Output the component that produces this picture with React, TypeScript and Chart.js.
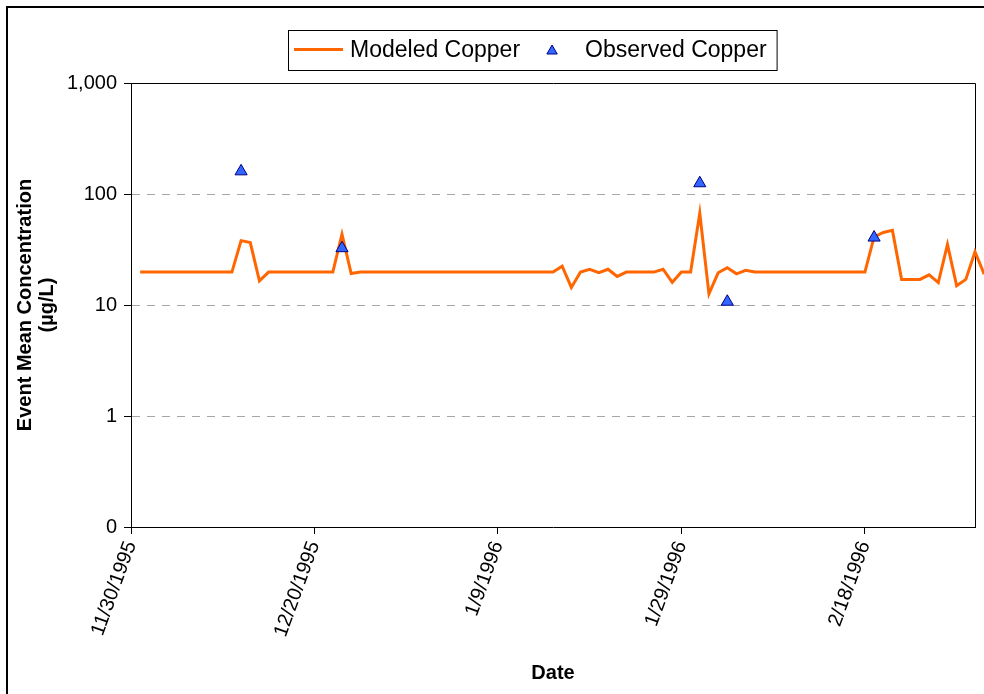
import React, { useEffect, useRef } from "react";
import { Chart, registerables } from "chart.js";

Chart.register(...registerables);

const FONT = "'Liberation Sans', Arial, sans-serif";

// ---- data ----
const originDate = "11/30/1995";
const xAxisEndDate = "3/1/1996";
const xTickDates = ["11/30/1995", "12/20/1995", "1/9/1996", "1/29/1996", "2/18/1996"];

const yTickValues = [0.1, 1, 10, 100, 1000];
const yTickLabels = ["0", "1", "10", "100", "1,000"];
const yGridValues = [1, 10, 100];

const modeledDates = [
  "12/1/1995", "12/11/1995", "12/12/1995", "12/13/1995", "12/14/1995", "12/15/1995",
  "12/22/1995", "12/23/1995", "12/24/1995", "12/25/1995",
  "1/15/1996", "1/16/1996", "1/17/1996", "1/18/1996", "1/19/1996", "1/20/1996",
  "1/21/1996", "1/22/1996", "1/23/1996", "1/26/1996", "1/27/1996", "1/28/1996",
  "1/29/1996", "1/30/1996", "1/31/1996", "2/1/1996", "2/2/1996", "2/3/1996",
  "2/4/1996", "2/5/1996", "2/6/1996", "2/18/1996", "2/19/1996", "2/20/1996",
  "2/21/1996", "2/22/1996", "2/24/1996", "2/25/1996", "2/26/1996", "2/27/1996",
  "2/28/1996", "2/29/1996", "3/1/1996", "3/2/1996",
];
const modeledCopper = [
  19.8, 19.8, 38, 36.5, 16.5, 19.8,
  19.8, 43.5, 19.2, 19.8,
  19.8, 22.4, 14.4, 19.8, 21, 19.6,
  21, 18.1, 19.8, 19.8, 21, 16,
  19.8, 19.8, 67, 12.6, 19.5, 21.7,
  19.1, 20.5, 19.8, 19.8, 41, 45,
  47, 17, 17, 18.7, 15.9, 35.2,
  14.9, 17, 30.2, 19,
];

const observedDates = ["12/12/1995", "12/23/1995", "1/31/1996", "2/3/1996", "2/19/1996"];
const observedCopper = [160, 32.5, 125, 10.7, 40.5];

// ---- helpers ----
function parseDate(s: string): number {
  const [m, d, y] = s.split("/").map(Number);
  return Date.UTC(y, m - 1, d);
}
const ORIGIN = parseDate(originDate);
function dayOf(s: string): number {
  return Math.round((parseDate(s) - ORIGIN) / 86400000);
}
function formatDay(v: number): string {
  const dt = new Date(ORIGIN + v * 86400000);
  return `${dt.getUTCMonth() + 1}/${dt.getUTCDate()}/${dt.getUTCFullYear()}`;
}

const framePlugin = {
  id: "frameAndBorder",
  beforeDraw(chart: any) {
    const ctx = chart.ctx;
    ctx.save();
    ctx.fillStyle = "#ffffff";
    ctx.fillRect(0, 0, chart.width, chart.height);
    ctx.strokeStyle = "#000000";
    ctx.lineWidth = 2;
    ctx.beginPath();
    ctx.moveTo(7, chart.height + 5);
    ctx.lineTo(7, 7);
    ctx.lineTo(chart.width + 5, 7);
    ctx.stroke();
    ctx.restore();
  },
  beforeDatasetsDraw(chart: any) {
    const { ctx, chartArea } = chart;
    ctx.save();
    ctx.strokeStyle = "#000000";
    ctx.lineWidth = 1;
    ctx.beginPath();
    ctx.moveTo(Math.round(chartArea.left) + 0.5, Math.round(chartArea.top) + 0.5);
    ctx.lineTo(Math.round(chartArea.right) + 0.5, Math.round(chartArea.top) + 0.5);
    ctx.lineTo(Math.round(chartArea.right) + 0.5, Math.round(chartArea.bottom) + 0.5);
    ctx.stroke();
    ctx.restore();
  },
};

const legendPlugin = {
  id: "boxedLegend",
  afterDraw(chart: any) {
    const ctx = chart.ctx;
    const [lineDs, ptDs] = chart.data.datasets;
    ctx.save();
    ctx.font = `23px ${FONT}`;
    const w1 = ctx.measureText(lineDs.label).width;
    const w2 = ctx.measureText(ptDs.label).width;
    const boxW = 6 + 49 + 7 + w1 + 32 + 33 + w2 + 10;
    const boxH = 40;
    const cx = 532.5;
    const left = Math.round(cx - boxW / 2);
    const top = 30;
    const cy = top + boxH / 2;
    ctx.fillStyle = "#ffffff";
    ctx.fillRect(left, top, boxW, boxH);
    ctx.strokeStyle = "#000000";
    ctx.lineWidth = 1;
    ctx.strokeRect(left + 0.5, top + 0.5, boxW, boxH);
    // line sample
    let x = left + 6;
    ctx.strokeStyle = lineDs.borderColor;
    ctx.lineWidth = lineDs.borderWidth;
    ctx.beginPath();
    ctx.moveTo(x, cy - 0.5);
    ctx.lineTo(x + 49, cy - 0.5);
    ctx.stroke();
    x += 56;
    ctx.fillStyle = "#000000";
    ctx.textBaseline = "middle";
    ctx.textAlign = "left";
    ctx.fillText(lineDs.label, x, cy + 1);
    x += w1 + 32;
    // triangle sample
    const r = 6;
    ctx.beginPath();
    for (let k = 0; k < 3; k++) {
      const a = (k * 2 * Math.PI) / 3;
      const px = x + Math.sin(a) * r;
      const py = cy + 1 - Math.cos(a) * r;
      if (k === 0) ctx.moveTo(px, py);
      else ctx.lineTo(px, py);
    }
    ctx.closePath();
    ctx.fillStyle = ptDs.backgroundColor;
    ctx.fill();
    ctx.strokeStyle = ptDs.borderColor;
    ctx.lineWidth = 1;
    ctx.stroke();
    x += 33;
    ctx.fillStyle = "#000000";
    ctx.fillText(ptDs.label, x, cy + 1);
    ctx.restore();
  },
};

export default function App() {
  const canvasRef = useRef<HTMLCanvasElement | null>(null);

  useEffect(() => {
    if (!canvasRef.current) return;
    const xMin = dayOf(originDate);
    const xMax = dayOf(xAxisEndDate);
    const chart = new Chart(canvasRef.current, {
      type: "line",
      data: {
        datasets: [
          {
            type: "line",
            label: "Modeled Copper",
            data: modeledDates.map((d, i) => ({ x: dayOf(d), y: modeledCopper[i] })),
            borderColor: "#FF6600",
            backgroundColor: "#FF6600",
            borderWidth: 3,
            pointRadius: 0,
            tension: 0,
            clip: false as any,
            order: 1,
          },
          {
            type: "line",
            label: "Observed Copper",
            data: observedDates.map((d, i) => ({ x: dayOf(d), y: observedCopper[i] })),
            showLine: false,
            pointStyle: "triangle",
            pointRadius: 7,
            pointBorderWidth: 1,
            backgroundColor: "#3366FF",
            borderColor: "#000080",
            pointBackgroundColor: "#3366FF",
            pointBorderColor: "#000080",
            order: 0,
          } as any,
        ],
      },
      options: {
        animation: false,
        responsive: false,
        devicePixelRatio: 1,
        layout: { padding: { top: 83, right: 9, left: 0, bottom: 0 } },
        plugins: {
          legend: { display: false },
          tooltip: { enabled: false },
        },
        scales: {
          x: {
            type: "linear",
            bounds: "data",
            afterDataLimits: (s: any) => {
              s.min = xMin;
              s.max = xMax;
            },
            afterBuildTicks: (s: any) => {
              s.ticks = xTickDates.map((d) => ({ value: dayOf(d) }));
            },
            afterFit: (s: any) => {
              s.height = 167;
            },
            ticks: {
              autoSkip: false,
              minRotation: 70,
              maxRotation: 70,
              padding: 4,
              color: "#000000",
              font: { family: FONT, size: 20 },
              callback: (v: any) => formatDay(Number(v)),
            },
            grid: {
              drawOnChartArea: false,
              drawTicks: true,
              tickLength: 7,
              color: "#000000",
              tickColor: "#000000",
            },
            border: { color: "#000000", width: 1 },
            title: {
              display: true,
              text: "Date",
              color: "#000000",
              font: { family: FONT, size: 20, weight: "bold", lineHeight: 1.1 },
              padding: { top: 0, bottom: 10 },
            },
          },
          y: {
            type: "logarithmic",
            min: 0.1,
            max: 1000,
            afterBuildTicks: (s: any) => {
              s.ticks = yTickValues.map((v) => ({ value: v }));
            },
            afterFit: (s: any) => {
              s.width = 131;
            },
            ticks: {
              padding: 7,
              color: "#000000",
              font: { family: FONT, size: 20 },
              callback: (v: any) => {
                const i = yTickValues.findIndex((t) => Math.abs(t - Number(v)) < 1e-9 * Math.max(1, t));
                return i >= 0 ? yTickLabels[i] : "";
              },
            },
            grid: {
              drawOnChartArea: true,
              drawTicks: true,
              tickLength: 7,
              lineWidth: 1,
              color: (ctx: any) => {
                const v = ctx.tick ? ctx.tick.value : null;
                return v !== null && yGridValues.some((g) => Math.abs(g - v) < 1e-9 * g)
                  ? "#A6A6A6"
                  : "rgba(0,0,0,0)";
              },
              tickColor: "#000000",
            },
            border: { color: "#000000", width: 1, dash: [8, 7] },
            title: {
              display: true,
              text: ["Event Mean Concentration", "(\u00B5g/L)"],
              color: "#000000",
              font: { family: FONT, size: 20, weight: "bold", lineHeight: 1.1 },
              padding: { top: 14, bottom: 0 },
            },
          },
        },
      } as any,
      plugins: [framePlugin, legendPlugin],
    });
    return () => chart.destroy();
  }, []);

  return (
    <div style={{ position: "fixed", left: 0, top: 0, width: 984, height: 694, background: "#fff" }}>
      <canvas ref={canvasRef} width={984} height={694} style={{ display: "block", width: 984, height: 694 }} />
    </div>
  );
}
